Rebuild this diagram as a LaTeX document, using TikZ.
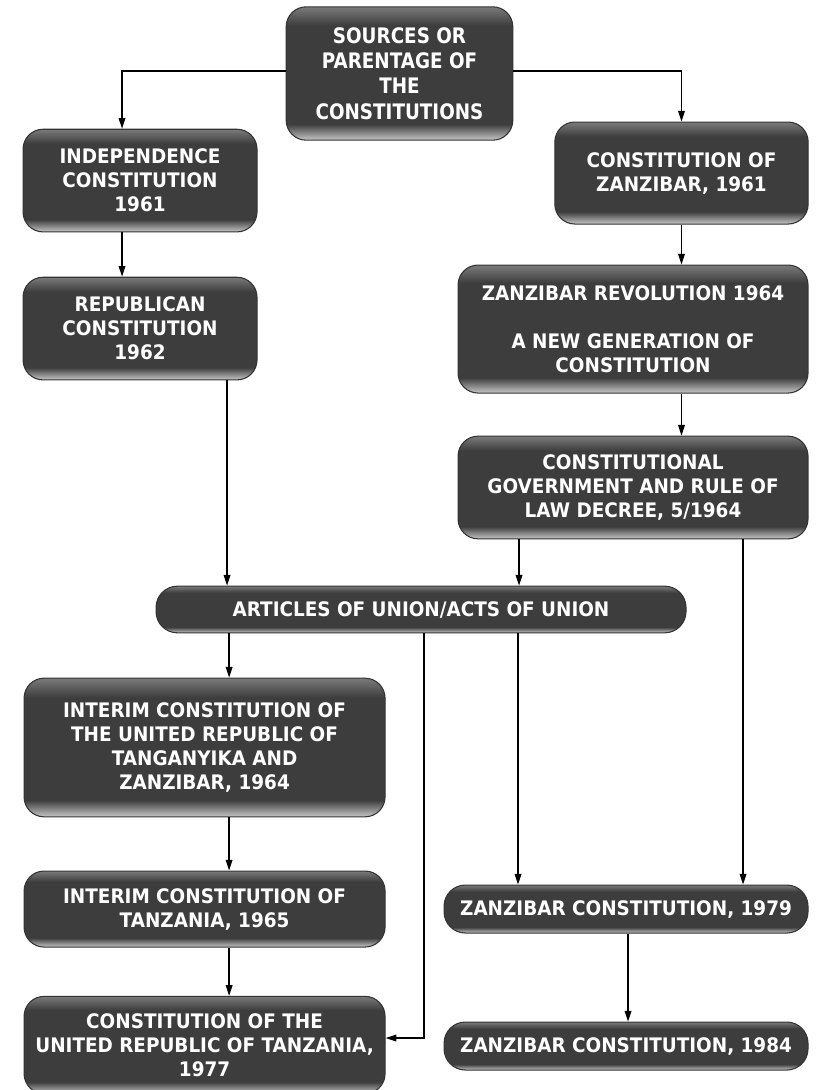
\documentclass[tikz,border=0pt]{standalone}
\usepackage{fontspec}
\setmainfont[FakeStretch=0.92]{DejaVu Sans}
\newfontfamily\srcfont[FakeStretch=0.86]{DejaVu Sans}
\usetikzlibrary{arrows.meta,positioning}
\pgfdeclareverticalshading{boxshade}{100bp}{color(0bp)=(black!22); color(25bp)=(black!22); color(31bp)=(black!76); color(68bp)=(black!76); color(75bp)=(black!52); color(100bp)=(black!52)}

\begin{document}
\begin{tikzpicture}[x=0.75pt,y=-0.75pt,>={Triangle[length=8pt,width=5pt]},
line width=1pt,
box/.style={rectangle,rounded corners=15pt,draw=black!80,line width=0.8pt,shading=boxshade,
text=white,align=center,inner sep=2pt,font=\bfseries\fontsize{15}{18}\selectfont},
pill/.style={box,rounded corners=16pt,minimum height=36pt}]
\useasboundingbox (0,0) rectangle (818,1090);
\node[box,minimum width=170pt,minimum height=100pt,font=\srcfont\bfseries\fontsize{16}{19}\selectfont] (src) at (399.5,73.5) {SOURCES OR\\PARENTAGE OF\\THE\\CONSTITUTIONS};
\node[box,minimum width=175.5pt,minimum height=77pt] (indep) [below of=src,xshift=-194.6pt,node distance=80.3pt] {INDEPENDENCE\\CONSTITUTION\\1961};
\node[box,minimum width=190pt,minimum height=76.5pt] (zan61) [below of=src,xshift=211.5pt,node distance=74.65pt] {CONSTITUTION OF\\ZANZIBAR, 1961};
\node[box,minimum width=175.5pt,minimum height=77pt] (repub) [below of=indep,node distance=111pt] {REPUBLICAN\\CONSTITUTION\\1962};
\node[box,minimum width=262.5pt,minimum height=96pt] (revol) [below of=zan61,xshift=-36.35pt,node distance=117pt] {ZANZIBAR REVOLUTION 1964\\[18pt]A NEW GENERATION OF\\CONSTITUTION};
\node[box,minimum width=262.5pt,minimum height=77pt] (decree) [below of=revol,node distance=118.85pt] {CONSTITUTIONAL\\GOVERNMENT AND RULE OF\\LAW DECREE, 5/1964};
\node[pill,minimum width=397.5pt,minimum height=35pt] (union) [below of=decree,xshift=-159pt,node distance=91.5pt] {ARTICLES OF UNION/ACTS OF UNION};
\node[box,minimum width=270.75pt,minimum height=104pt] (int64) [below of=union,xshift=-162.35pt,node distance=103.5pt] {INTERIM CONSTITUTION OF\\THE UNITED REPUBLIC OF\\TANGANYIKA AND\\ZANZIBAR, 1964};
\node[box,minimum width=270.75pt,minimum height=57pt] (int65) [below of=int64,node distance=121.15pt] {INTERIM CONSTITUTION OF\\TANZANIA, 1965};
\node[box,minimum width=270.75pt,minimum height=73pt] (c77) [below of=int65,node distance=102pt] {CONSTITUTION OF THE\\UNITED REPUBLIC OF TANZANIA,\\1977};
\node[pill,minimum width=273pt] (z79) [right of=int65,node distance=316.1pt] {ZANZIBAR CONSTITUTION, 1979};
\node[pill,minimum width=273pt] (z84) [below of=z79,node distance=102.75pt] {ZANZIBAR CONSTITUTION, 1984};
% top split
\draw[->] ([yshift=2pt]src.west) -| ([xshift=-13.5pt]indep.north);
\draw[->] ([yshift=2pt]src.east) -| (zan61.north);
% left column
\draw[->] ([xshift=-13.5pt]indep.south) -- ([xshift=-13.5pt]repub.north);
\draw[->] ([xshift=65.25pt]repub.south) -- ([xshift=65.25pt]repub.south |- union.north);
% right column
\draw[->] (zan61.south) -- (zan61.south |- revol.north);
\draw[->] (zan61.south |- revol.south) -- (zan61.south |- decree.north);
\draw[->] ([xshift=-85.5pt]decree.south) -- ([xshift=-85.5pt]decree.south |- union.north);
\draw[->] ([xshift=82.5pt]decree.south) -- ([xshift=82.5pt]decree.south |- z79.north);
% below the union
\draw[->] ([xshift=18.4pt]int64.north |- union.south) -- ([xshift=18.4pt]int64.north);
\draw[->] ([xshift=18.4pt]int64.south) -- ([xshift=18.4pt]int64.south |- int65.north);
\draw[->] ([xshift=18.4pt]int65.south) -- ([xshift=18.4pt]int65.south |- c77.north);
\draw[->] ([xshift=2.25pt]union.south) |- ([yshift=5.25pt]c77.east);
\draw[->] ([xshift=72.75pt]union.south) -- ([xshift=72.75pt]union.south |- z79.north);
\draw[->] ([xshift=1.5pt]z79.south) -- ([xshift=1.5pt]z84.north);
\end{tikzpicture}
\end{document}
